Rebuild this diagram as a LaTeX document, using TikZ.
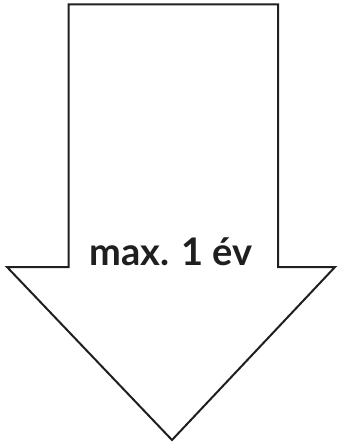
\documentclass[tikz,border=0pt]{standalone}
\usepackage{fontspec}
\setmainfont{Lato}
\begin{document}
\begin{tikzpicture}[x=1pt,y=-1pt,
  arrowline/.style={draw=black!88,line width=2pt,line join=miter},
  lbl/.style={font=\fontsize{38}{42}\selectfont\bfseries,text=black!88,anchor=base,inner sep=0pt}]
\useasboundingbox (0,0) rectangle (339,443);
\draw[arrowline] (68.5,4.5) -- (278,4.5) -- (278,267) -- (335,267) -- (172,440) -- (7,267) -- (68.5,267) -- cycle;
\node[lbl] (t) at (171,265.5) {max. 1 év};
\end{tikzpicture}
\end{document}
